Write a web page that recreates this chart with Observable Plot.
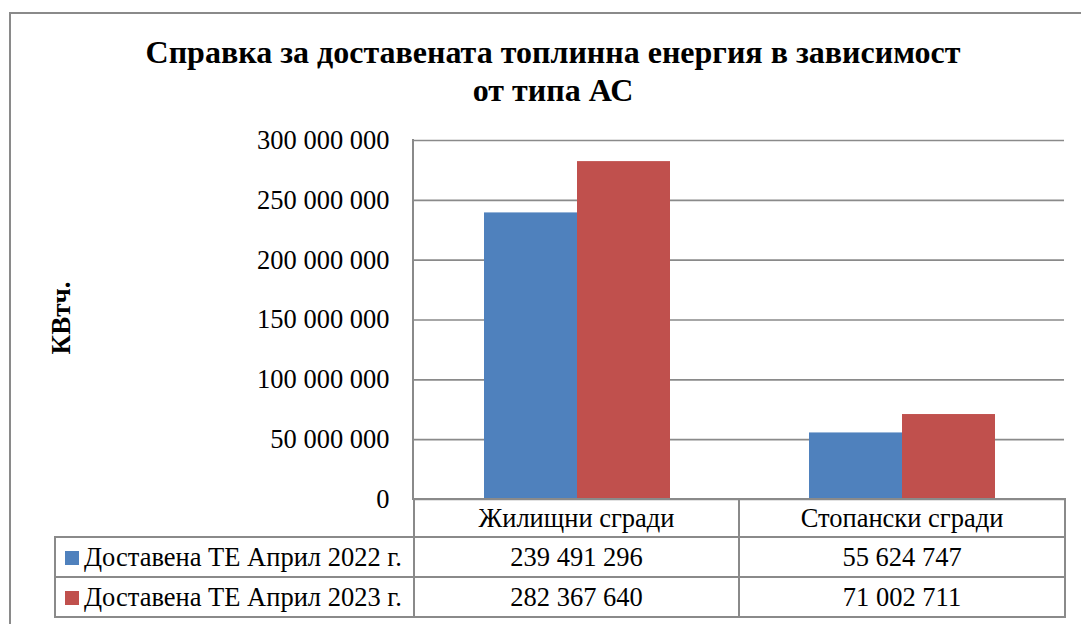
<!DOCTYPE html>
<html><head><meta charset="utf-8">
<script src="https://cdn.jsdelivr.net/npm/d3@7"></script>
<script src="https://cdn.jsdelivr.net/npm/@observablehq/plot@0.6"></script>
<style>
html,body{margin:0;padding:0;background:#fff;overflow:hidden;font-family:'Liberation Serif',serif}
#wrap{position:relative;width:1081px;height:624px;overflow:hidden;font-family:'Liberation Serif',serif;color:#000}
#frame{position:absolute;left:9px;top:12px;width:1200px;height:800px;border-left:2px solid #8a8a8a;border-top:2px solid #8a8a8a}
#title{position:absolute;left:0;top:33px;width:1106px;text-align:center;font-weight:bold;font-size:32px;line-height:38px;font-family:'Liberation Serif',serif}
#ylabel{position:absolute;left:61px;top:318px;transform:translate(-50%,-50%) rotate(-90deg);font-weight:bold;font-size:27px;white-space:nowrap;font-family:'Liberation Serif',serif}
#chart{position:absolute;left:0;top:0}
#chart svg text{font-family:'Liberation Serif',serif}
#axisline{position:absolute;left:412px;top:139px;width:2px;height:361px;background:#8a8a8a}
#tbl{position:absolute;left:54px;top:498px;border-collapse:collapse;font-size:26.5px;table-layout:fixed;font-family:'Liberation Serif',serif}
#tbl td{border:2px solid #8a8a8a;padding:0;text-align:center;white-space:nowrap;overflow:hidden;font-family:'Liberation Serif',serif;line-height:30px}
#tbl td.blank{border:none}
#tbl td.lg{text-align:left;padding-left:9px}
.key{display:inline-block;width:14px;height:14px;margin-right:5px;vertical-align:1px}
</style></head>
<body>
<div id="wrap">
  <div id="frame"></div>
  <div id="title">Справка за доставената топлинна енергия в зависимост<br>от типа АС</div>
  <div id="ylabel">КВтч.</div>
  <div id="chart"></div>
  <div id="axisline"></div>
  <table id="tbl"></table>
</div>
<script>
// ---- data ----
const categories = ["Жилищни сгради", "Стопански сгради"];
const seriesNames = ["Доставена ТЕ Април 2022 г.", "Доставена ТЕ Април 2023 г."];
const values2022 = [239491296, 55624747];
const values2023 = [282367640, 71002711];
const yTicks = [0, 50000000, 100000000, 150000000, 200000000, 250000000, 300000000];
const seriesColors = ["#4F81BD", "#C0504D"];

const seriesValues = [values2022, values2023];
const rows = [];
seriesNames.forEach((s, si) => categories.forEach((c, ci) => rows.push({category: c, series: s, value: seriesValues[si][ci]})));

const fmt = d => d3.format(",")(d).replace(/,/g, " ");

const chart = Plot.plot({
  width: 1081,
  height: 520,
  marginLeft: 413,
  marginRight: 17,
  marginTop: 140,
  marginBottom: 21,
  style: {fontFamily: "Liberation Serif", fontSize: "26.5px", color: "#000", background: "transparent"},
  fx: {domain: categories, padding: 0, axis: null},
  x: {domain: seriesNames, paddingInner: 0, paddingOuter: 0.742, axis: null},
  y: {domain: [0, 300000000], ticks: yTicks, tickFormat: fmt, tickSize: 0, tickPadding: 25, label: null},
  color: {domain: seriesNames, range: seriesColors},
  marks: [
    Plot.ruleY(yTicks, {stroke: "#8a8a8a", strokeWidth: 1.6, strokeOpacity: 1}),
    Plot.barY(rows, {fx: "category", x: "series", y: "value", fill: "series"})
  ]
});
document.getElementById("chart").appendChild(chart);

// ---- data table ----
const tbl = d3.select("#tbl");
const colgroup = tbl.append("colgroup");
[359, 325, 326].forEach(w => colgroup.append("col").style("width", w + "px"));
const hdr = tbl.append("tr").style("height", "38px");
hdr.append("td").attr("class", "blank");
categories.forEach(c => hdr.append("td").text(c));
seriesNames.forEach((s, si) => {
  const tr = tbl.append("tr").style("height", "40px");
  const td = tr.append("td").attr("class", "lg");
  td.append("span").attr("class", "key").style("background", seriesColors[si]);
  td.append("span").text(s);
  seriesValues[si].forEach(v => tr.append("td").text(fmt(v)));
});
</script>
</body></html>
